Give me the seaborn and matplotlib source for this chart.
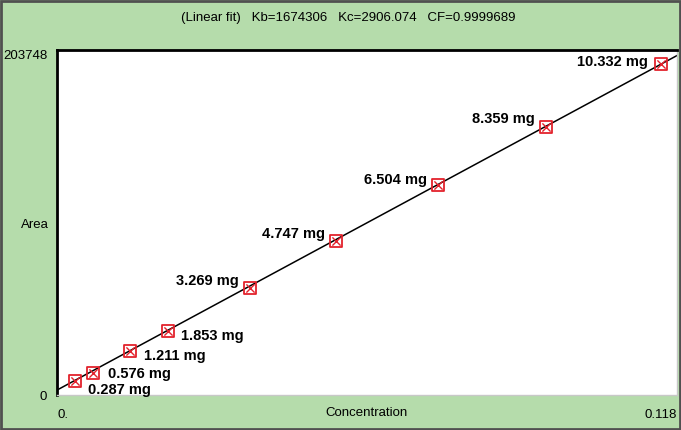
import numpy as np
import pandas as pd
import seaborn as sns
import matplotlib.pyplot as plt

# calibration points
labels = ["0.287 mg", "0.576 mg", "1.211 mg", "1.853 mg", "3.269 mg",
          "4.747 mg", "6.504 mg", "8.359 mg", "10.332 mg"]
conc = [0.00343, 0.00685, 0.01389, 0.02113, 0.03673, 0.05310, 0.07251, 0.09307, 0.11495]
area = [8270, 12990, 25990, 37800, 63190, 90950, 124020, 158270, 195480]

# fit parameters from the header
kb = 1674306
kc = 2906.074
cf = 0.9999689
x_max = 0.118
y_max = 203748

df = pd.DataFrame({"Concentration": conc, "Area": area, "label": labels})
fit = pd.DataFrame({"Concentration": [0, x_max]})
fit["Area"] = kb * fit["Concentration"] + kc

green = "#b5dcab"
sns.set_style("white")
plt.rcParams["font.family"] = ["Liberation Sans", "DejaVu Sans"]
plt.rcParams["text.color"] = "black"
plt.rcParams["axes.labelcolor"] = "black"
plt.rcParams["xtick.color"] = "black"
plt.rcParams["ytick.color"] = "black"

fig = plt.figure(figsize=(6.81, 4.30), dpi=100)
fig.patch.set_facecolor(green)
ax = fig.add_axes([57 / 681, 35 / 430, 620 / 681, 345 / 430])
ax.set_facecolor("white")

sns.lineplot(data=fit, x="Concentration", y="Area", color="black", lw=1.1, ax=ax)
sns.scatterplot(data=df, x="Concentration", y="Area", marker="s", s=70,
                facecolor="none", edgecolor="#e3222c", linewidth=1.3, ax=ax, zorder=3)
sns.scatterplot(data=df, x="Concentration", y="Area", marker="x", s=35,
                color="#e3222c", linewidth=1.0, ax=ax, zorder=3)

# label offsets in pixels (dx, dy, ha)
offsets = [(13, -9, "left"), (15, -1, "left"), (14, -5, "left"), (13, -5, "left"),
           (-11, 7, "right"), (-11, 7, "right"), (-11, 5, "right"),
           (-11, 8, "right"), (-13, 2, "right")]
for (_, row), (dx, dy, ha) in zip(df.iterrows(), offsets):
    ax.annotate(row["label"], (row["Concentration"], row["Area"]),
                xytext=(dx * 0.72, dy * 0.72), textcoords="offset points",
                ha=ha, va="center", fontsize=10.5, fontweight="bold", color="black")

ax.set_xlim(0, x_max)
ax.set_ylim(0, y_max)
ax.set_xticks([0, x_max])
ax.set_xticklabels(["0.", "0.118"], fontsize=9.5)
ax.get_xticklabels()[0].set_horizontalalignment("left")
ax.get_xticklabels()[1].set_horizontalalignment("right")
ax.set_yticks([0, y_max])
ax.set_yticklabels(["0", "203748"], fontsize=9.5)
ax.get_yticklabels()[1].set_verticalalignment("top")
ax.tick_params(axis="y", length=0, pad=7)
ax.tick_params(axis="x", length=0, pad=10)
ax.set_xlabel("Concentration", fontsize=9.5, va="center")
ax.xaxis.set_label_coords(0.5, -18 / 345)
ax.set_ylabel("Area", fontsize=9.5, rotation=0, va="center", ha="center")
ax.yaxis.set_label_coords(-0.036, 0.493)

for side in ["left", "top"]:
    ax.spines[side].set_color("black")
    ax.spines[side].set_linewidth(2)
for side in ["right", "bottom"]:
    ax.spines[side].set_color("#c8c8c8")
    ax.spines[side].set_linewidth(1)

fig.text(348 / 681, 1 - 18 / 430,
         f"(Linear fit)   Kb={kb}   Kc={kc}   CF={cf}",
         ha="center", va="center", fontsize=9.5)

# outer window frame
fig.add_artist(plt.Rectangle((0.002, 0.003), 0.996, 0.994, transform=fig.transFigure,
                             fill=False, edgecolor="#505050", linewidth=2))

fig.savefig("out.png", dpi=100, facecolor=green)
